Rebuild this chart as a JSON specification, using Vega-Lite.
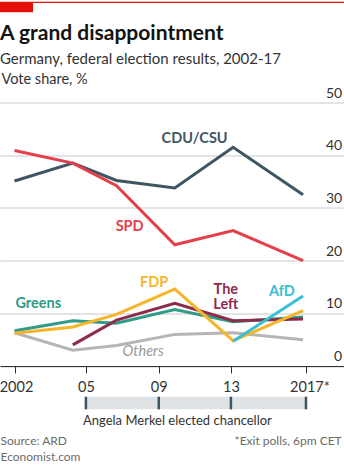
{
  "$schema": "https://vega.github.io/schema/vega-lite/v6.json",
  "width": 344,
  "height": 263.5,
  "autosize": {"type": "none"},
  "padding": {"left": 0, "top": 102.5, "right": 0, "bottom": 103},
  "background": "white",
  "config": {"view": {"stroke": null}, "font": "Lato"},
  "title": {
    "text": "A grand disappointment",
    "subtitle": "Germany, federal election results, 2002-17",
    "anchor": "start",
    "frame": "group",
    "font": "Lato",
    "fontSize": 21,
    "fontWeight": "bold",
    "color": "#121212",
    "subtitleFont": "Lato",
    "subtitleFontSize": 15,
    "subtitleColor": "#333333",
    "subtitlePadding": 8,
    "offset": -65
  },
  "datasets": {
    "results": [
      {"party": "Others", "year": 1998, "share": 6.3},
      {"party": "Others", "year": 2002, "share": 3.0},
      {"party": "Others", "year": 2005, "share": 3.9},
      {"party": "Others", "year": 2009, "share": 6.0},
      {"party": "Others", "year": 2013, "share": 6.3},
      {"party": "Others", "year": 2017.8, "share": 5.0},
      {"party": "Greens", "year": 1998, "share": 6.7},
      {"party": "Greens", "year": 2002, "share": 8.6},
      {"party": "Greens", "year": 2005, "share": 8.1},
      {"party": "Greens", "year": 2009, "share": 10.7},
      {"party": "Greens", "year": 2013, "share": 8.4},
      {"party": "Greens", "year": 2017.8, "share": 9.3},
      {"party": "The Left", "year": 2002, "share": 4.0},
      {"party": "The Left", "year": 2005, "share": 8.7},
      {"party": "The Left", "year": 2009, "share": 11.9},
      {"party": "The Left", "year": 2013, "share": 8.6},
      {"party": "The Left", "year": 2017.8, "share": 8.9},
      {"party": "FDP", "year": 1998, "share": 6.2},
      {"party": "FDP", "year": 2002, "share": 7.4},
      {"party": "FDP", "year": 2005, "share": 9.8},
      {"party": "FDP", "year": 2009, "share": 14.6},
      {"party": "FDP", "year": 2013, "share": 4.8},
      {"party": "FDP", "year": 2017.8, "share": 10.5},
      {"party": "AfD", "year": 2013, "share": 4.7},
      {"party": "AfD", "year": 2017.8, "share": 13.3},
      {"party": "CDU/CSU", "year": 1998, "share": 35.1},
      {"party": "CDU/CSU", "year": 2002, "share": 38.5},
      {"party": "CDU/CSU", "year": 2005, "share": 35.2},
      {"party": "CDU/CSU", "year": 2009, "share": 33.8},
      {"party": "CDU/CSU", "year": 2013, "share": 41.5},
      {"party": "CDU/CSU", "year": 2017.8, "share": 32.5},
      {"party": "SPD", "year": 1998, "share": 40.9},
      {"party": "SPD", "year": 2002, "share": 38.5},
      {"party": "SPD", "year": 2005, "share": 34.2},
      {"party": "SPD", "year": 2009, "share": 23.0},
      {"party": "SPD", "year": 2013, "share": 25.7},
      {"party": "SPD", "year": 2017.8, "share": 20.0}
    ],
    "labels": [
      {"party": "CDU/CSU", "label": "CDU/CSU", "year": 2010.36, "share": 42.98},
      {"party": "SPD", "label": "SPD", "year": 2005.9, "share": 26.32},
      {"party": "FDP", "label": "FDP", "year": 2007.58, "share": 15.84},
      {"party": "The Left", "label": "The\nLeft", "year": 2012.5, "share": 14.35},
      {"party": "AfD", "label": "AfD", "year": 2016.35, "share": 14.04},
      {"party": "Greens", "label": "Greens", "year": 1999.63, "share": 11.73}
    ],
    "merkel": [
      {"election": 2005, "tick": 2002.9},
      {"election": 2009, "tick": 2007.9},
      {"election": 2013, "tick": 2012.85},
      {"election": 2017, "tick": 2018.0}
    ]
  },
  "layer": [
    {
      "data": {"values": [{}]},
      "mark": {"type": "rect", "color": "#dfe3e6"},
      "encoding": {
        "x": {"datum": 2002.82, "type": "quantitative"},
        "x2": {"datum": 2018.08},
        "y": {"datum": -5.83, "type": "quantitative"},
        "y2": {"datum": -8.22}
      }
    },
    {
      "data": {"name": "results"},
      "mark": {"type": "line", "strokeWidth": 3, "strokeJoin": "miter", "strokeCap": "butt"},
      "encoding": {
        "x": {
          "field": "year",
          "type": "quantitative",
          "scale": {"domain": [1997.005, 2020.61], "nice": false, "zero": false},
          "axis": {
            "values": [1998, 2002.9, 2007.9, 2012.85, 2018],
            "labelExpr": "datum.value < 2000 ? '2002' : datum.value < 2005 ? '05' : datum.value < 2010 ? '09' : datum.value < 2015 ? '13' : '2017*'",
            "title": null,
            "grid": false,
            "domainColor": "#333333",
            "domainWidth": 1,
            "tickColor": "#333333",
            "tickSize": 7,
            "tickWidth": 1,
            "labelFont": "Lato",
            "labelFontSize": 14.5,
            "labelColor": "#333333",
            "labelPadding": 7,
            "labelOffset": {"condition": [{"test": "datum.value < 2000", "value": 1.5}, {"test": "datum.value > 2017", "value": 3.5}], "value": 0},
            "labelFlush": false,
            "labelOverlap": false
          }
        },
        "y": {
          "field": "share",
          "type": "quantitative",
          "scale": {"domain": [0, 50], "nice": false},
          "axis": {
            "orient": "right",
            "values": [0, 10, 20, 30, 40, 50],
            "title": "Vote share, %",
            "titleAngle": 0,
            "titleX": -343,
            "titleY": -19.2,
            "titleAlign": "left",
            "titleBaseline": "alphabetic",
            "titleFont": "Lato",
            "titleFontSize": 14.5,
            "titleFontWeight": "normal",
            "titleColor": "#333333",
            "grid": true,
            "gridColor": "#c9c9c9",
            "gridWidth": 1,
            "domain": false,
            "ticks": false,
            "labelAlign": "right",
            "labelBaseline": "alphabetic",
            "labelPadding": -2.3,
            "labelOffset": -5.5,
            "labelFont": "Lato",
            "labelFontSize": 14,
            "labelColor": "#333333"
          }
        },
        "color": {
          "field": "party",
          "type": "nominal",
          "scale": {
            "domain": ["Others", "Greens", "The Left", "FDP", "AfD", "CDU/CSU", "SPD"],
            "range": ["#b5b5b5", "#2f9b88", "#8c2c4a", "#f7b52b", "#38bfd3", "#3f5662", "#e2404b"]
          },
          "legend": null
        }
      }
    },
    {
      "data": {"name": "labels"},
      "mark": {"type": "text", "fontWeight": "bold", "fontSize": 14.5, "font": "Lato", "lineBreak": "\n", "lineHeight": 14.6, "align": "center", "baseline": "middle"},
      "encoding": {
        "x": {"field": "year", "type": "quantitative"},
        "y": {"field": "share", "type": "quantitative"},
        "text": {"field": "label"},
        "color": {
          "field": "party",
          "type": "nominal",
          "scale": {
            "domain": ["Others", "Greens", "The Left", "FDP", "AfD", "CDU/CSU", "SPD"],
            "range": ["#b5b5b5", "#2f9b88", "#8c2c4a", "#f0a91c", "#38bfd3", "#3f5662", "#e2404b"]
          },
          "legend": null
        }
      }
    },
    {
      "data": {"values": [{}]},
      "mark": {"type": "text", "fontStyle": "italic", "fontSize": 14.5, "font": "Lato", "color": "#9a9a9a", "align": "center", "baseline": "middle"},
      "encoding": {
        "x": {"datum": 2006.83, "type": "quantitative"},
        "y": {"datum": 2.71, "type": "quantitative"},
        "text": {"value": "Others"}
      }
    },
    {
      "data": {"values": [{}]},
      "mark": {"type": "rule", "color": "#e3120b", "strokeWidth": 1.2},
      "encoding": {"y": {"datum": 69.01, "type": "quantitative"}}
    },
    {
      "data": {"values": [{}]},
      "mark": {"type": "rect", "color": "#e3120b"},
      "encoding": {
        "x": {"datum": 1997.005, "type": "quantitative"},
        "x2": {"datum": 1999.27},
        "y": {"datum": 69.07, "type": "quantitative"},
        "y2": {"datum": 67.12}
      }
    },
    {
      "data": {"name": "merkel"},
      "mark": {"type": "rule", "color": "#3f5662", "strokeWidth": 2.5},
      "encoding": {
        "x": {"field": "tick", "type": "quantitative"},
        "y": {"datum": -5.83, "type": "quantitative"},
        "y2": {"datum": -8.22}
      }
    },
    {
      "data": {"values": [{}]},
      "mark": {"type": "text", "fontSize": 13, "font": "Lato", "color": "#333333", "align": "center", "baseline": "alphabetic"},
      "encoding": {
        "x": {"datum": 2009.18, "type": "quantitative"},
        "y": {"datum": -11.2, "type": "quantitative"},
        "text": {"value": "Angela Merkel elected chancellor"}
      }
    },
    {
      "data": {"values": [{}]},
      "mark": {"type": "text", "fontSize": 12, "font": "Lato", "color": "#6b6b6b", "align": "left", "baseline": "alphabetic"},
      "encoding": {
        "x": {"datum": 1997.04, "type": "quantitative"},
        "y": {"datum": -15.0, "type": "quantitative"},
        "text": {"value": "Source: ARD"}
      }
    },
    {
      "data": {"values": [{}]},
      "mark": {"type": "text", "fontSize": 12, "font": "Lato", "color": "#6b6b6b", "align": "left", "baseline": "alphabetic"},
      "encoding": {
        "x": {"datum": 1997.04, "type": "quantitative"},
        "y": {"datum": -18.0, "type": "quantitative"},
        "text": {"value": "Economist.com"}
      }
    },
    {
      "data": {"values": [{}]},
      "mark": {"type": "text", "fontSize": 12, "font": "Lato", "color": "#6b6b6b", "align": "right", "baseline": "alphabetic"},
      "encoding": {
        "x": {"datum": 2020.45, "type": "quantitative"},
        "y": {"datum": -15.0, "type": "quantitative"},
        "text": {"value": "*Exit polls, 6pm CET"}
      }
    }
  ]
}
